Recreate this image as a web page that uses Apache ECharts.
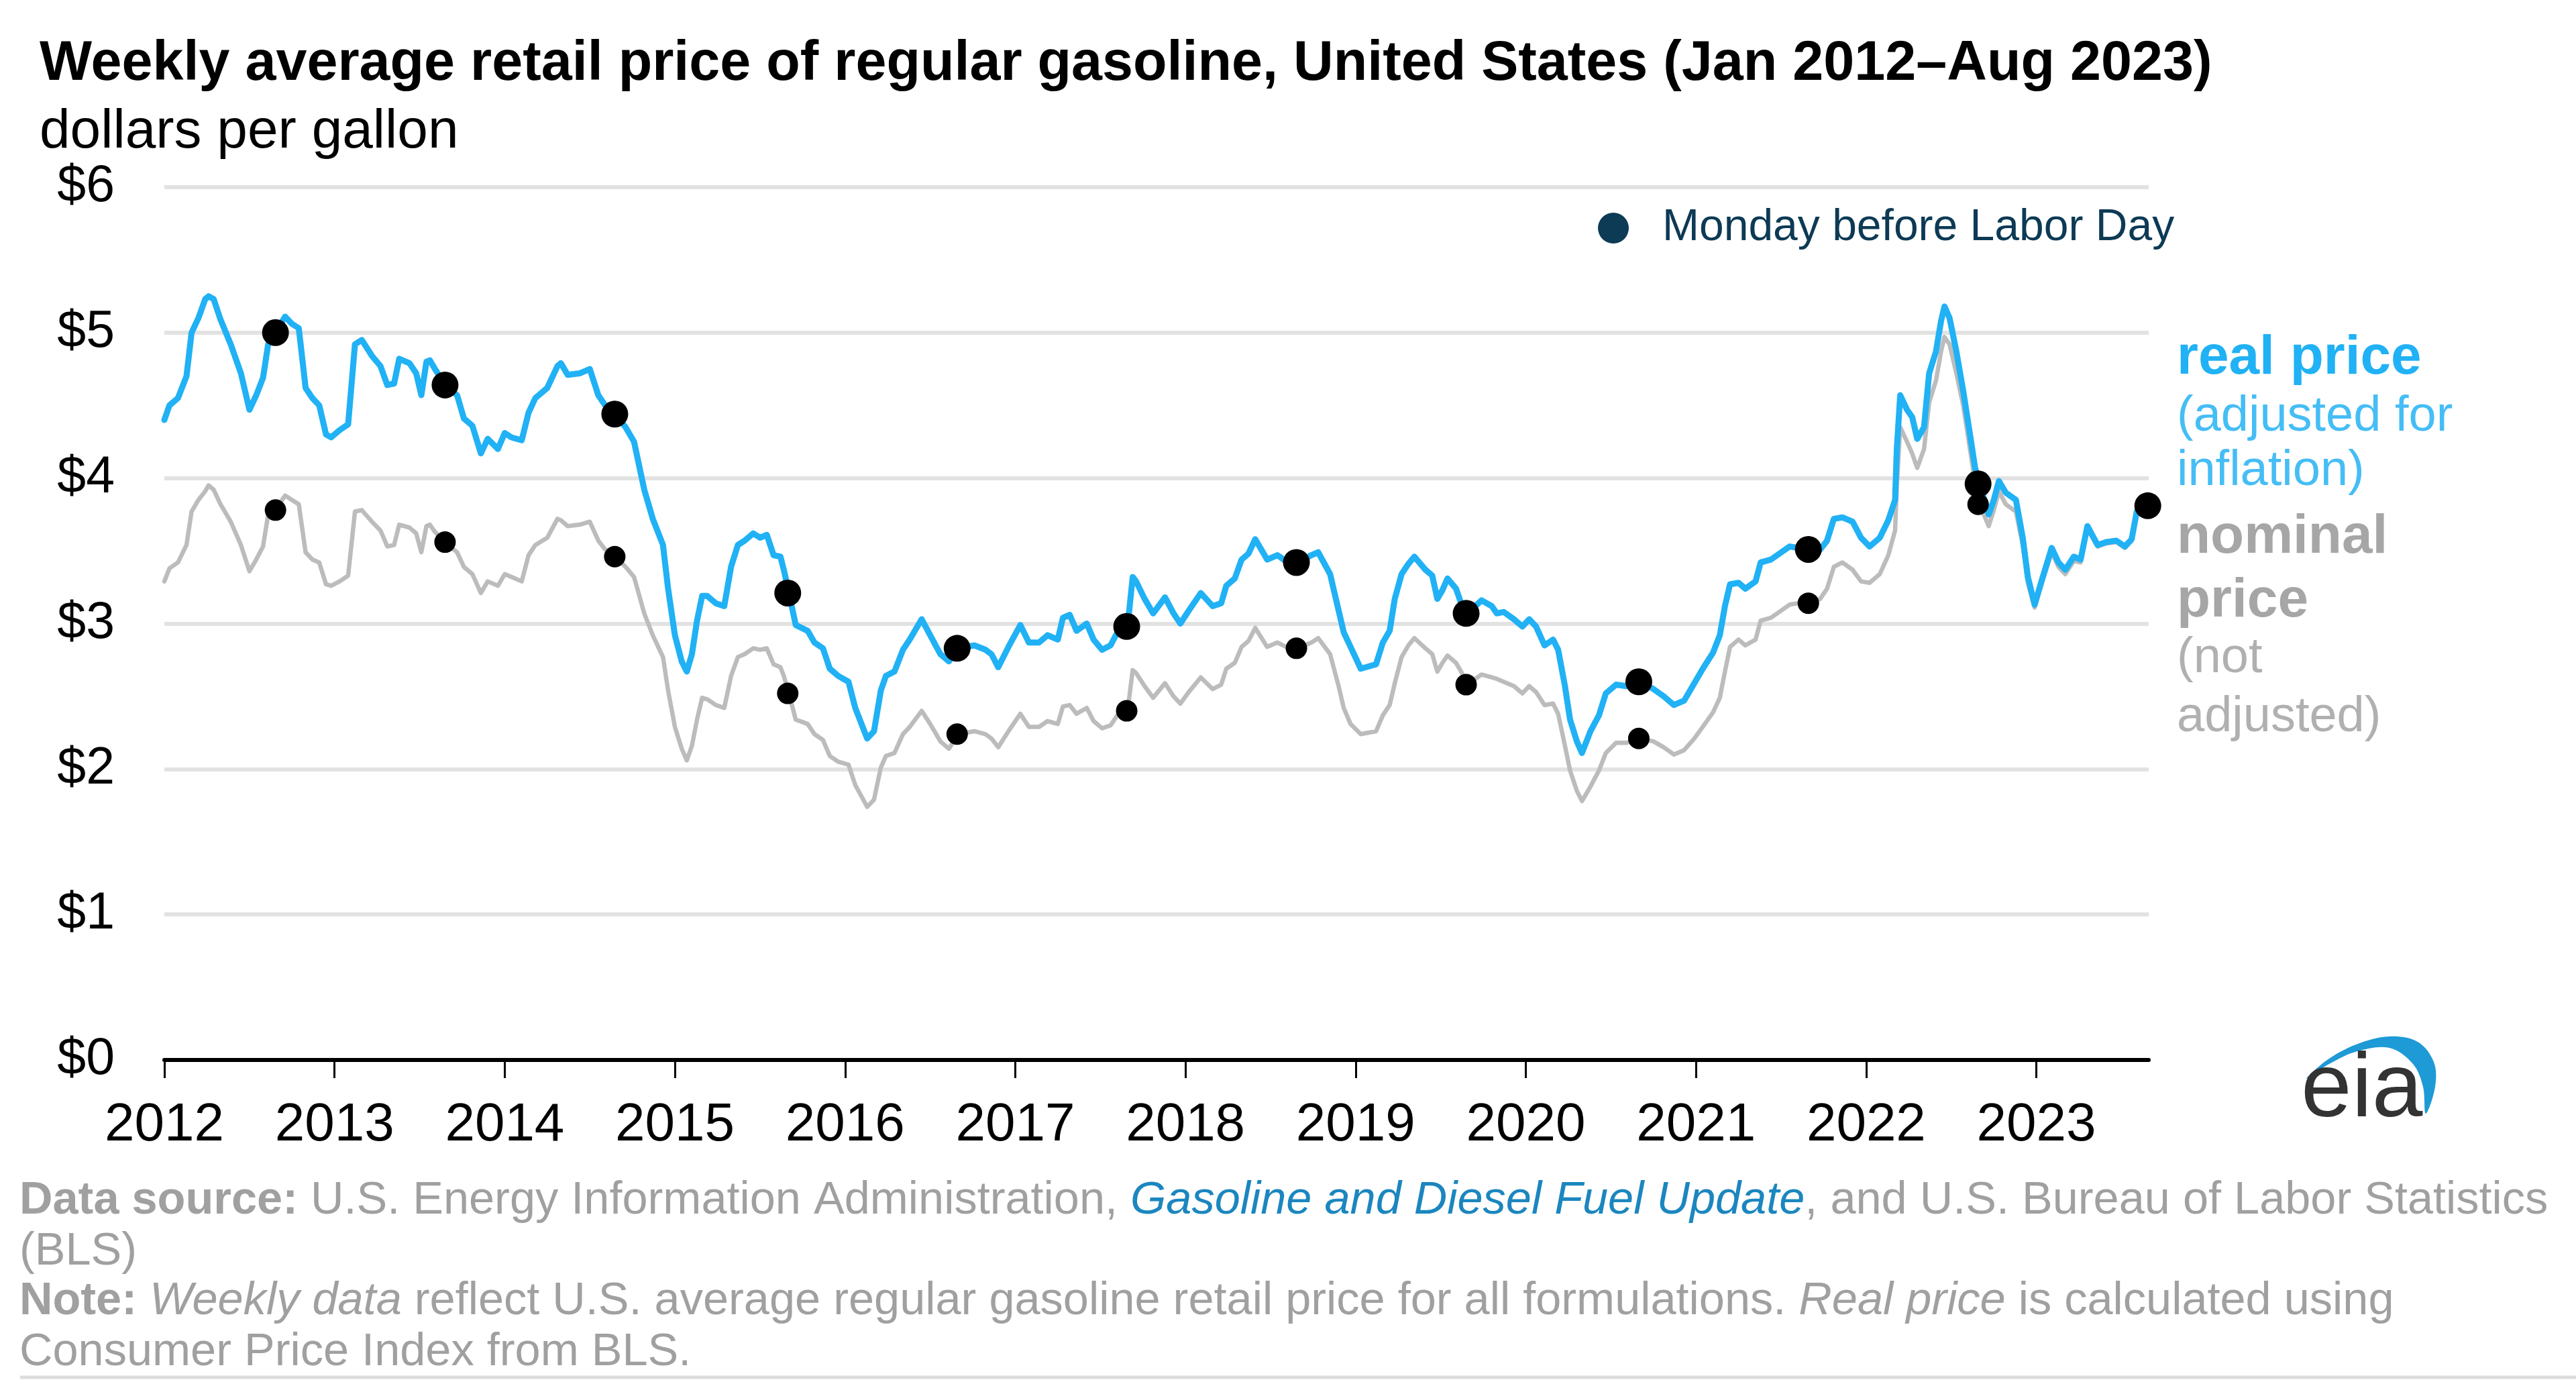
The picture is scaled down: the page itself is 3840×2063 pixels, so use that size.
<!DOCTYPE html>
<html>
<head>
<meta charset="utf-8">
<script src="https://cdn.jsdelivr.net/npm/echarts@6/dist/echarts.min.js"></script>
<style>
html,body{margin:0;padding:0;background:#fff;}
#chart{width:3840px;height:2063px;}
</style>
</head>
<body>
<div id="chart"></div>
<script>
// ---- DATA (decimal years, dollars per gallon) ----
const weekTimes = [
2012.00,2012.03,2012.08,2012.13,2012.16,2012.20,2012.24,2012.26,2012.29,2012.33,2012.39,2012.45,2012.50,2012.54,2012.58,2012.61,2012.65,2012.71,2012.75,2012.79,2012.83,2012.87,2012.91,2012.95,2012.98,
2013.03,2013.08,2013.12,2013.16,2013.22,2013.27,2013.31,2013.35,2013.38,2013.44,2013.48,2013.51,2013.54,2013.56,2013.59,2013.65,2013.72,2013.76,2013.81,2013.86,2013.90,2013.96,
2014.00,2014.04,2014.10,2014.14,2014.18,2014.25,2014.31,2014.33,2014.37,2014.44,2014.50,2014.55,2014.59,2014.65,2014.71,2014.76,2014.82,2014.87,2014.93,2014.96,
2015.00,2015.04,2015.07,2015.10,2015.13,2015.16,2015.19,2015.24,2015.29,2015.33,2015.37,2015.41,2015.46,2015.50,2015.54,2015.58,2015.62,2015.64,2015.67,2015.71,2015.78,2015.82,2015.87,2015.91,2015.96,
2016.02,2016.06,2016.13,2016.17,2016.21,2016.24,2016.29,2016.34,2016.38,2016.45,2016.50,2016.56,2016.61,2016.665,2016.76,2016.825,2016.86,2016.90,2016.96,
2017.03,2017.08,2017.14,2017.19,2017.25,2017.28,2017.32,2017.36,2017.42,2017.46,2017.51,2017.56,2017.60,2017.66,2017.69,2017.71,2017.76,2017.81,2017.88,2017.93,2017.97,
2018.02,2018.09,2018.16,2018.21,2018.24,2018.29,2018.33,2018.37,2018.41,2018.48,2018.54,2018.59,2018.66,2018.74,2018.78,2018.85,2018.90,2018.93,2018.97,
2019.03,2019.12,2019.16,2019.20,2019.23,2019.27,2019.31,2019.345,2019.41,2019.45,2019.48,2019.51,2019.54,2019.59,2019.62,2019.656,2019.74,2019.80,2019.83,2019.87,2019.93,2019.98,
2020.02,2020.06,2020.11,2020.16,2020.19,2020.23,2020.26,2020.30,2020.33,2020.38,2020.43,2020.47,2020.53,2020.59,2020.676,2020.75,2020.81,2020.87,2020.93,2020.99,
2021.04,2021.10,2021.14,2021.17,2021.20,2021.25,2021.29,2021.35,2021.38,2021.44,2021.55,2021.60,2021.67,2021.73,2021.77,2021.81,2021.86,2021.92,2021.97,
2022.02,2022.08,2022.13,2022.17,2022.18,2022.20,2022.24,2022.27,2022.30,2022.34,2022.37,2022.41,2022.44,2022.46,2022.49,2022.53,2022.57,2022.61,2022.64,2022.666,2022.72,2022.75,2022.78,2022.82,2022.88,2022.92,2022.95,2022.99,
2023.03,2023.09,2023.13,2023.17,2023.22,2023.26,2023.30,2023.36,2023.41,2023.47,2023.52,2023.56,2023.59,2023.655
];
const realPrice = [
4.40,4.50,4.55,4.70,5.00,5.10,5.23,5.25,5.23,5.09,4.92,4.72,4.47,4.57,4.69,4.92,5.00,5.11,5.06,5.03,4.62,4.55,4.50,4.30,4.28,
4.33,4.37,4.92,4.95,4.84,4.77,4.64,4.65,4.82,4.79,4.72,4.57,4.80,4.81,4.75,4.64,4.57,4.41,4.36,4.17,4.27,4.20,
4.31,4.28,4.26,4.45,4.55,4.62,4.77,4.79,4.71,4.72,4.75,4.57,4.50,4.44,4.35,4.25,3.92,3.72,3.54,3.24,
2.92,2.74,2.67,2.79,3.02,3.19,3.19,3.14,3.12,3.39,3.54,3.57,3.62,3.59,3.61,3.47,3.46,3.37,3.21,2.99,2.95,2.87,2.83,2.69,2.64,
2.60,2.42,2.21,2.26,2.54,2.64,2.67,2.82,2.89,3.03,2.92,2.79,2.74,2.83,2.85,2.82,2.79,2.70,2.84,
2.99,2.87,2.87,2.92,2.89,3.04,3.06,2.95,3.00,2.89,2.82,2.85,2.94,2.98,3.32,3.29,3.17,3.07,3.18,3.07,3.00,
3.09,3.21,3.12,3.14,3.26,3.31,3.44,3.48,3.58,3.44,3.47,3.43,3.42,3.47,3.49,3.34,3.09,2.94,2.84,
2.69,2.72,2.87,2.95,3.17,3.34,3.41,3.46,3.37,3.33,3.17,3.23,3.31,3.24,3.14,3.07,3.16,3.12,3.07,3.08,3.03,2.98,
3.03,2.98,2.85,2.89,2.82,2.57,2.34,2.19,2.11,2.26,2.37,2.52,2.58,2.57,2.60,2.55,2.50,2.44,2.47,2.59,
2.69,2.80,2.92,3.12,3.27,3.28,3.24,3.29,3.42,3.44,3.53,3.52,3.51,3.51,3.57,3.72,3.73,3.70,3.59,
3.53,3.59,3.71,3.85,4.20,4.57,4.47,4.42,4.27,4.35,4.72,4.87,5.08,5.18,5.10,4.87,4.60,4.30,4.07,3.96,3.75,3.85,3.98,3.90,3.85,3.59,3.32,3.13,
3.29,3.52,3.42,3.37,3.46,3.44,3.67,3.54,3.56,3.57,3.53,3.58,3.77,3.81
];
const nominalPrice = [
3.29,3.38,3.42,3.54,3.77,3.85,3.91,3.95,3.92,3.82,3.70,3.54,3.36,3.44,3.53,3.75,3.78,3.88,3.85,3.82,3.49,3.44,3.42,3.27,3.26,
3.29,3.33,3.77,3.78,3.70,3.64,3.53,3.54,3.68,3.66,3.62,3.49,3.67,3.68,3.63,3.56,3.49,3.39,3.34,3.21,3.29,3.26,
3.34,3.32,3.29,3.47,3.54,3.59,3.72,3.71,3.67,3.68,3.70,3.57,3.51,3.46,3.39,3.32,3.07,2.92,2.77,2.54,
2.29,2.14,2.06,2.16,2.34,2.49,2.48,2.44,2.42,2.64,2.77,2.79,2.83,2.82,2.83,2.72,2.70,2.64,2.52,2.34,2.31,2.24,2.20,2.09,2.05,
2.03,1.89,1.74,1.79,2.01,2.09,2.11,2.24,2.29,2.40,2.31,2.19,2.14,2.24,2.26,2.24,2.21,2.15,2.26,
2.38,2.29,2.29,2.33,2.31,2.43,2.44,2.38,2.42,2.33,2.28,2.30,2.37,2.40,2.68,2.66,2.57,2.49,2.59,2.50,2.45,
2.53,2.63,2.55,2.58,2.69,2.73,2.84,2.88,2.97,2.84,2.87,2.84,2.83,2.87,2.90,2.79,2.57,2.42,2.31,
2.24,2.26,2.37,2.44,2.59,2.77,2.85,2.90,2.83,2.79,2.67,2.73,2.78,2.73,2.67,2.58,2.65,2.63,2.62,2.60,2.57,2.52,
2.57,2.53,2.44,2.45,2.38,2.16,1.99,1.85,1.78,1.88,1.99,2.11,2.18,2.18,2.21,2.19,2.15,2.10,2.13,2.21,
2.29,2.39,2.49,2.67,2.84,2.89,2.85,2.89,3.02,3.04,3.13,3.14,3.14,3.17,3.24,3.39,3.42,3.37,3.29,
3.28,3.34,3.47,3.64,3.95,4.35,4.25,4.17,4.07,4.20,4.52,4.67,4.87,4.97,4.92,4.72,4.50,4.20,3.97,3.82,3.67,3.78,3.91,3.82,3.77,3.54,3.28,3.11,
3.27,3.49,3.39,3.34,3.43,3.42,3.65,3.53,3.55,3.56,3.52,3.57,3.77,3.81
];
const laborDayDates = ['2012-08-27','2013-08-26','2014-08-25','2015-08-31','2016-08-29','2017-08-28','2018-08-27','2019-08-26','2020-08-31','2021-08-30','2022-08-29','2023-08-28'];
const laborDayReal    = [5.00,4.64,4.44,3.21,2.83,2.98,3.42,3.07,2.60,3.51,3.96,3.81];
const laborDayNominal = [3.78,3.56,3.46,2.52,2.24,2.40,2.83,2.58,2.21,3.14,3.82,3.81];
const yearTicks = [2012,2013,2014,2015,2016,2017,2018,2019,2020,2021,2022,2023];

// ---- helpers ----
function toDecimalYear(s){
  const d = new Date(s + 'T00:00:00Z');
  const y = d.getUTCFullYear();
  const start = Date.UTC(y,0,1), end = Date.UTC(y+1,0,1);
  return y + (d.getTime() - start) / (end - start);
}
const FONT = "'Liberation Sans',Arial,sans-serif";
const realData = weekTimes.map((t,i)=>[t, realPrice[i]]);
const nomData = weekTimes.map((t,i)=>[t, nominalPrice[i]]);
const ldReal = laborDayDates.map((d,i)=>[toDecimalYear(d), laborDayReal[i]]);
const ldNom = laborDayDates.map((d,i)=>[toDecimalYear(d), laborDayNominal[i]]);

const chart = echarts.init(document.getElementById('chart'), null, {renderer:'canvas'});
const GRAY = '#a6a6a6';
const FOOT = 68.5;
function t(x,y,text,size,weight,fill){
  return {type:'text', x:x, y:y, silent:true,
    style:{text:text, fontSize:size, fontWeight:weight, fontFamily:FONT, fill:fill, verticalAlign:'middle', align:'left'}};
}
chart.setOption({
  animation:false,
  backgroundColor:'#ffffff',
  title:[
    {text:'Weekly average retail price of regular gasoline, United States (Jan 2012\u2013Aug 2023)', left:54, top:50,
     textStyle:{fontFamily:FONT, fontSize:82.7, fontWeight:'bold', color:'#000'}},
    {text:'dollars per gallon', left:54, top:151,
     textStyle:{fontFamily:FONT, fontSize:82, fontWeight:'normal', color:'#000'}}
  ],
  grid:{left:245, right:637, top:279, bottom:483, containLabel:false},
  xAxis:{
    type:'value', min:2012, max:2023.66,
    axisLine:{show:true, lineStyle:{color:'#000', width:6}},
    axisTick:{show:true, customValues:yearTicks, length:27, lineStyle:{color:'#000', width:3}},
    axisLabel:{customValues:yearTicks, formatter:v=>String(Math.round(v)), fontFamily:FONT, fontSize:80, color:'#000', margin:58},
    splitLine:{show:false}
  },
  yAxis:{
    type:'value', min:0, max:6, interval:1,
    axisLine:{show:false}, axisTick:{show:false},
    axisLabel:{formatter:v=>'$'+v, fontFamily:FONT, fontSize:77, color:'#000', margin:74},
    splitLine:{show:true, lineStyle:{color:'#e2e2e2', width:6}}
  },
  series:[
    {name:'nominal price', type:'line', data:nomData, showSymbol:false, symbol:'none',
     lineStyle:{color:'#bcbcbc', width:6.5, join:'round', cap:'round'}, z:2},
    {name:'real price', type:'line', data:realData, showSymbol:false, symbol:'none',
     lineStyle:{color:'#21b1f5', width:9, join:'round', cap:'round'}, z:3},
    {name:'Monday before Labor Day (nominal)', type:'scatter', data:ldNom, symbol:'circle', symbolSize:32,
     itemStyle:{color:'#000', opacity:1}, clip:false, z:4},
    {name:'Monday before Labor Day', type:'scatter', data:ldReal, symbol:'circle', symbolSize:40,
     itemStyle:{color:'#000', opacity:1}, clip:false, z:5}
  ],
  graphic:[
    // legend
    {type:'circle', shape:{cx:2405, cy:340, r:23}, style:{fill:'#0d3a55'}, silent:true},
    t(2478,340,'Monday before Labor Day',66,'normal','#0d3a55'),
    // series labels
    t(3245,534,'real price',82,'bold','#21b1f5'),
    t(3245,622,'(adjusted for',74,'normal','#45bdf5'),
    t(3245,703,'inflation)',74,'normal','#45bdf5'),
    t(3245,801,'nominal',82,'bold',GRAY),
    t(3245,896,'price',82,'bold',GRAY),
    t(3245,982,'(not',74,'normal','#b0b0b0'),
    t(3245,1070,'adjusted)',74,'normal','#b0b0b0'),
    // eia logo
    {type:'polygon', silent:true, shape:{smooth:0.35, points:[[3438,1608],[3469,1580],[3512,1557],[3561,1545],[3604,1553],[3628,1583],[3630,1620],[3616,1660],[3612,1620],[3597,1586],[3562,1562],[3514,1567],[3472,1586]]},
     style:{fill:'#1e9ad6'}},
    {type:'text', x:3430, y:1694, silent:true, style:{text:'eia', fontSize:136, fontFamily:FONT, fontWeight:'normal', fill:'#333', verticalAlign:'bottom', align:'left'}},
    // footer
    {type:'text', x:29, y:1790, silent:true, style:{
      text:'{b|Data source:} U.S. Energy Information Administration, {l|Gasoline and Diesel Fuel Update}, and U.S. Bureau of Labor Statistics',
      fontSize:FOOT, fontFamily:FONT, fill:'#a0a0a0', verticalAlign:'middle',
      rich:{b:{fontWeight:'bold', fontSize:FOOT, fontFamily:FONT, fill:'#a0a0a0'}, l:{fontStyle:'italic', fontSize:FOOT, fontFamily:FONT, fill:'#1b86bf'}}}},
    t(29,1866,'(BLS)',FOOT,'normal','#a0a0a0'),
    {type:'text', x:29, y:1940, silent:true, style:{
      text:'{b|Note:} {i|Weekly data} reflect U.S. average regular gasoline retail price for all formulations. {i|Real price} is calculated using',
      fontSize:FOOT, fontFamily:FONT, fill:'#a0a0a0', verticalAlign:'middle',
      rich:{b:{fontWeight:'bold', fontSize:FOOT, fontFamily:FONT, fill:'#a0a0a0'}, i:{fontStyle:'italic', fontSize:FOOT, fontFamily:FONT, fill:'#a0a0a0'}}}},
    t(29,2016,'Consumer Price Index from BLS.',FOOT,'normal','#a0a0a0'),
    {type:'line', silent:true, shape:{x1:30, y1:2053, x2:3840, y2:2053}, style:{stroke:'#dcdcdc', lineWidth:5}}
  ]
});
</script>
</body>
</html>
